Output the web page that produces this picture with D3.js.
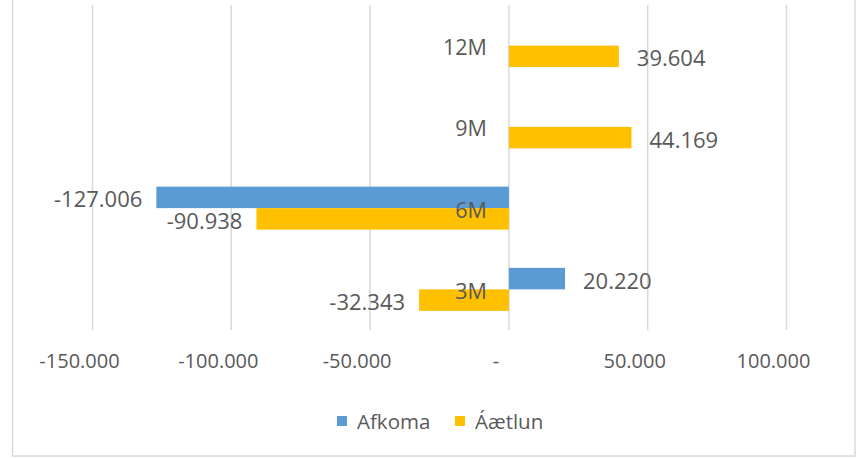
<!DOCTYPE html>
<html>
<head>
<meta charset="utf-8">
<script src="https://cdn.jsdelivr.net/npm/d3@7"></script>
<style>
  html, body { margin: 0; padding: 0; background: #fff; }
  svg { display: block; }
  text { font-family: "Open Sans", "Liberation Sans", sans-serif; fill: #595959; }
</style>
</head>
<body>
<svg id="chart" width="858" height="458"></svg>
<script>
const categories = ["12M", "9M", "6M", "3M"];
const seriesNames = ["Afkoma", "Áætlun"];
const afkoma = [null, null, -127.006, 20.220];
const aaetlun = [39.604, 44.169, -90.938, -32.343];
const tickValues = [-150, -100, -50, 0, 50, 100];
const tickLabels = ["-150.000", "-100.000", "-50.000", "-", "50.000", "100.000"];
const colors = ["#5B9BD5", "#FFC000"];

const fmt = v => {
  const s = Math.abs(v).toFixed(3);
  return (v < 0 ? "-" : "") + s;
};

const svg = d3.select("#chart");

// outer border
svg.append("rect")
  .attr("x", 12.5).attr("y", -5).attr("width", 842.5).attr("height", 461)
  .attr("fill", "none").attr("stroke", "#D9D9D9").attr("stroke-width", 1.5);

const x = d3.scaleLinear().domain([-150, 100]).range([92.5, 786.5]);
const y = d3.scaleBand().domain(categories).range([5, 330]);
const ySub = d3.scaleBand().domain(seriesNames).range([0, y.bandwidth()]).paddingInner(0).paddingOuter(0.89);

// gridlines
svg.append("g").selectAll("line").data(tickValues).join("line")
  .attr("x1", d => x(d)).attr("x2", d => x(d))
  .attr("y1", 5).attr("y2", 330)
  .attr("stroke", "#D9D9D9").attr("stroke-width", 1.5);

// x tick labels
svg.append("g").selectAll("text").data(tickValues).join("text")
  .attr("x", d => x(d) - 13).attr("y", 360)
  .attr("text-anchor", "middle").attr("dominant-baseline", "central")
  .style("font-size", "20px")
  .text((d, i) => tickLabels[i]);

const seriesData = [afkoma, aaetlun];
const barsG = svg.append("g");
const labelsG = svg.append("g");
seriesData.forEach((vals, si) => {
  const data = categories.map((c, i) => ({ c, v: vals[i] })).filter(d => d.v !== null);
  barsG.selectAll(null).data(data).join("rect")
    .attr("x", d => x(Math.min(0, d.v)))
    .attr("width", d => Math.abs(x(d.v) - x(0)))
    .attr("y", d => y(d.c) + ySub(seriesNames[si]))
    .attr("height", ySub.bandwidth())
    .attr("fill", colors[si]);
  labelsG.selectAll(null).data(data).join("text")
    .attr("x", d => d.v >= 0 ? x(d.v) + 18 : x(d.v) - 14)
    .attr("y", d => y(d.c) + ySub(seriesNames[si]) + ySub.bandwidth() / 2 + 1)
    .attr("text-anchor", d => d.v >= 0 ? "start" : "end")
    .attr("dominant-baseline", "central")
    .style("font-size", "22px")
    .text(d => fmt(d.v));
});

// category labels (drawn after bars, near zero axis)
svg.append("g").selectAll("text").data(categories).join("text")
  .attr("x", x(0) - 22).attr("y", d => y(d) + y.bandwidth() / 2 + 1)
  .attr("text-anchor", "end").attr("dominant-baseline", "central")
  .style("font-size", "21.5px")
  .text(d => d);

// legend
const legend = svg.append("g");
const legendItems = [{ name: "Afkoma", x: 337 }, { name: "Áætlun", x: 455 }];
legendItems.forEach((it, i) => {
  legend.append("rect").attr("x", it.x).attr("y", 416).attr("width", 10).attr("height", 10).attr("fill", colors[i]);
  legend.append("text").attr("x", it.x + 20).attr("y", 421)
    .attr("dominant-baseline", "central").style("font-size", "20.5px").text(seriesNames[i]);
});
</script>
</body>
</html>
